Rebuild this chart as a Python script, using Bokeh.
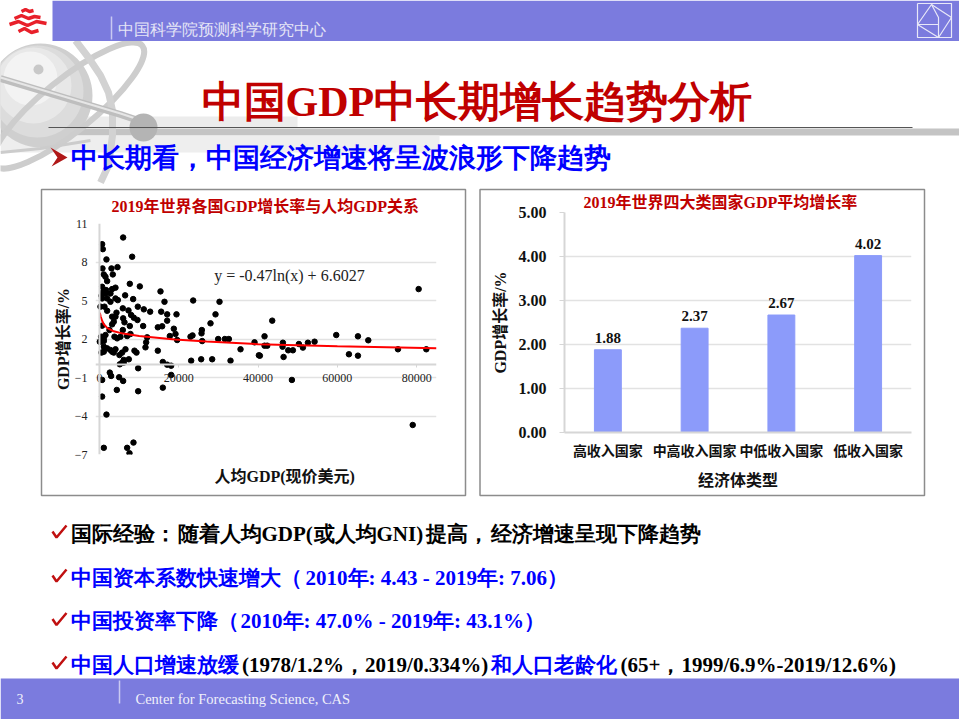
from bokeh.embed import file_html
from bokeh.models import ColumnDataSource, FactorRange, FixedTicker, GridBox, LabelSet, Label, NumeralTickFormatter, Range1d, Span, Title
from bokeh.plotting import figure
from bokeh.resources import INLINE

# scatter: GDP per capita vs GDP growth, 2019
gdp_per_capita = [
    5971, 673, 841, 1766, 8242, 757, 3028, 4541, 1093, 3364, 1514, 1934, 673, 7653, 10176, 4037,
    3196, 925, 1682, 15390, 6476, 505, 1514, 2775, 673, 1934, 4037, 4626, 2775, 16400, 23632, 30276,
    8494, 252, 1262, 5887, 9672, 11185, 15559, 1934, 7317, 12783, 4289, 17072, 19427, 29267, 4037, 3196,
    7990, 8662, 5971, 9587, 17072, 28005, 3616, 6308, 673, 3196, 7653, 11017, 14718, 15811, 18754, 25819,
    2523, 5887, 25735, 421, 1514, 3785, 7821, 6980, 17745, 19175, 22959, 23464, 29940, 31622, 32631, 12026,
    19595, 41630, 1093, 4457, 5298, 84, 11774, 25903, 39107,
    252, 1093, 1093, 1934, 2775, 4037, 6560, 11606, 505, 1093, 3616, 3196, 5719, 5046, 8830, 9335,
    14718, 7401, 6139, 5719, 5130, 6139, 15979, 17072, 18082, 23128, 25651, 28426, 33051, 35574, 40200, 9756,
    2607, 2944, 18082, 673, 4962, 5971, 4373, 9756, 15979, 673, 1766, 1093, 6980, 8578, 7569,
    80494, 43570, 59720, 65187, 67794, 46260, 52565, 54252, 50297, 41636, 42309, 46177, 51308, 75280, 82430,
    47607, 48784, 62915, 65187, 46430, 40458, 48532, 79000,
]
gdp_growth = [
    9.91, 9.39, 9.0, 8.2, 8.41, 7.5, 7.5, 7.6, 7.03, 7.03, 6.85, 6.51, 6.07, 6.3, 6.1, 6.0,
    5.89, 5.68, 5.81, 5.71, 5.4, 5.37, 5.55, 5.55, 5.16, 5.16, 5.16, 5.03, 4.9, 4.9, 5.0, 4.9,
    5.11, 4.52, 4.52, 4.39, 4.52, 4.31, 4.13, 4.2, 4.23, 4.13, 4.05, 3.92, 3.92, 3.92, 3.74, 3.74,
    3.87, 3.66, 3.61, 3.48, 3.43, 3.22, 3.35, 3.3, 3.04, 3.14, 3.01, 3.01, 2.91, 2.99, 2.8, 2.7,
    2.7, 2.7, 2.44, 2.18, 2.31, 2.18, 2.39, 2.23, 2.23, 2.39, 2.18, 2.28, 2.0, 2.0, 2.0, 2.13,
    1.92, 2.21, 2.05, 2.05, 2.18, 1.79, 1.74, 1.84, 1.74,
    1.79, 1.84, 1.40, 1.27, 1.14, 1.2, 1.2, 1.35, 0.94, 1.01, 0.94, 1.01, 0.94, 0.75, 1.09, 0.94,
    1.09, 0.42, 0.37, 0.16, 0.03, 0.16, 0.21, 0.0, -0.08, 0.31, 0.42, 0.42, 0.31, 1.2, 0.73, -0.28,
    -0.62, -0.88, -0.8, -1.19, -0.98, -1.27, -1.97, -2.07, -1.79, -2.49, -3.89, -6.48, -6.48, -6.07, -6.9,
    5.89, 3.43, 2.31, 2.21, 1.9, 1.71, 1.71, 1.79, 1.61, 1.48, 1.48, 1.4, 1.33, 1.2, 1.2,
    1.12, 1.12, 0.81, 0.7, 0.6, 0.7, -1.19, -4.7,
]
# red trend curve, read at a few places along it
trend_gdp = [100, 300, 700, 1100, 2000, 3600, 6000, 10000, 19000, 27000, 40000, 60000, 85000]
trend_growth = [4.05, 3.75, 3.4, 3.15, 2.85, 2.6, 2.42, 2.24, 1.96, 1.8, 1.6, 1.43, 1.27]
scatter_yticks = [-7, -4, -1, 2, 5, 8, 11]
scatter_xticks = [0, 20000, 40000, 60000, 80000]

# bars: mean growth by income group
income_groups = ["高收入国家", "中高收入国家", "中低收入国家", "低收入国家"]
group_growth = [1.88, 2.37, 2.67, 4.02]
bar_labels = ["1.88", "2.37", "2.67", "4.02"]
bar_yticks = [0, 1, 2, 3, 4, 5]

SERIF = "'Liberation Serif','Noto Sans CJK SC'"
LATIN_SERIF = "'Liberation Serif'"
LATIN_SANS = "'Liberation Sans'"
SANS = "'Noto Sans CJK SC'"
BAND = "#7B7BDE"
RED = "#C00000"
BLUE = "#0000FF"
GRID = "#E2E2E2"
AXIS = "#D6D6D6"

# slide background, in pixel coordinates of the slide
slide = figure(width=959, height=719, x_range=Range1d(0, 959), y_range=Range1d(719, 0),
               x_axis_type=None, y_axis_type=None, toolbar_location=None, output_backend="svg",
               min_border=0, outline_line_color=None, frame_align=False)
slide.grid.visible = False

# pale bands behind the title rule
slide.quad(left=[0, 0, 0], right=[297, 959, 439], top=[116, 128, 135], bottom=[127, 135, 152],
           color=["#ECECEC", "#C4C4C4", "#EEEEEE"], line_color=None)

# grey globe with orbits
for cx, cy, r, col in [(40, 95, 52, "#CFCFCF"), (37, 91, 46, "#DCDCDC"), (33, 85, 38, "#E8E8E8"),
                       (30, 78, 27, "#F3F3F3")]:
    slide.circle(x=[cx], y=[cy], radius=r, color=col, line_color=None)
slide.circle(x=[38], y=[69], radius=5, color="#C8C8C8", line_color=None)
slide.ellipse(x=[68], y=[105], width=190, height=52, angle=0.68, fill_color=None,
              line_color="#CDCDCD", line_width=6)
slide.line(x=[75, 88, 100, 108, 112, 112, 108, 100], y=[40, 57, 75, 92, 110, 135, 165, 182],
           line_color="#D2D2D2", line_width=7)
slide.line(x=[0, 60, 120, 150], y=[78, 96, 114, 124], line_color="#BEBEBE", line_width=7)
slide.line(x=[0, 60, 120, 150], y=[77, 95, 113, 123], line_color="#E6E6E6", line_width=2)
slide.circle(x=[143], y=[127], radius=14, color="#B4B4B4", line_color=None)
slide.line(x=[0, 40, 90], y=[152, 148, 140], line_color="#CCCCCC", line_width=3)

# header and footer bands
slide.quad(left=[52, 0], right=[959, 959], top=[0, 678], bottom=[40.5, 719], color=BAND, line_color=None)
slide.segment(x0=[111, 119], y0=[16, 680], x1=[111, 119], y1=[39, 703], line_color="#C9C9F2", line_width=1.5)
slide.text(x=[117], y=[29], text=["中国科学院预测科学研究中心"], text_font=SANS, text_font_size="15.8px",
           text_color="#E6E6F6", text_baseline="middle")
slide.text(x=[16], y=[698], text=["3"], text_font=LATIN_SANS, text_font_size="14px",
           text_color="#F0F0FA", text_baseline="middle")
slide.text(x=[135], y=[698], text=["Center for Forecasting Science, CAS"], text_font=LATIN_SANS,
           text_font_size="14.5px", text_color="#F0F0FA", text_baseline="middle")

# red emblem, top left
slide.multi_line(xs=[[21, 25, 29, 33], [14, 21, 28, 34, 40], [9, 18, 27, 36, 46], [18, 24, 31, 38]],
                 ys=[[11, 9, 11, 10], [18, 15, 18, 16, 17], [24, 21, 25, 21, 23], [31, 28, 32, 30]],
                 line_color="#E8202A", line_width=3.5)

# framed square, top right
slide.multi_line(xs=[[917, 951, 951, 917, 917], [931, 951, 938, 917, 931], [931, 938, 938], [917, 938]],
                 ys=[[3, 3, 37, 37, 3], [4, 17, 37, 24, 4], [4, 17, 37], [24, 24]],
                 line_color="#E8E8F8", line_width=1.2)

# title and rule
slide.text(x=[201], y=[101], text=["中国GDP中长期增长趋势分析"], text_font=SERIF, text_font_style="bold",
           text_font_size="42px", text_color=RED, text_baseline="middle")
slide.line(x=[48, 912], y=[127, 127], line_color="#555555", line_width=1)

# lead line
slide.patch(x=[50, 67, 51, 57], y=[147, 157, 166, 157], color="#B01818", line_color=None)
slide.text(x=[70], y=[157], text=["中长期看，中国经济增速将呈波浪形下降趋势"], text_font=SANS,
           text_font_style="bold", text_font_size="27px", text_color=BLUE, text_baseline="middle")

# chart frames
slide.quad(left=[41, 479.5], right=[465, 924], top=[189, 189], bottom=[495, 495], fill_color="white",
           line_color="#8C8C8C", line_width=1.5)

# ticks and bullet rows
row_y = [533, 577, 620.5, 664]
slide.multi_line(xs=[[52, 56, 66]] * 4, ys=[[y - 2, y + 4, y - 8] for y in row_y],
                 line_color="#C01010", line_width=2.5)
row_parts = [
    (70, row_y[0], "国际经验：", "black"),
    (177, row_y[0], "随着人均GDP(", "black"),
    (313, row_y[0], "或人均GNI)", "black"),
    (425, row_y[0], "提高，", "black"),
    (490.5, row_y[0], "经济增速呈现下降趋势", "black"),
    (70, row_y[1], "中国资本系数快速增大（", BLUE),
    (305, row_y[1], "2010年: 4.43 - 2019年: 7.06）", BLUE),
    (70, row_y[2], "中国投资率下降（", BLUE),
    (240, row_y[2], "2010年: 47.0% - 2019年: 43.1%）", BLUE),
    (70, row_y[3], "中国人口增速放缓", BLUE),
    (241.5, row_y[3], "(1978/1.2%，2019/0.334%)", "black"),
    (490.5, row_y[3], "和人口老龄化", BLUE),
    (620, row_y[3], "(65+，1999/6.9%-2019/12.6%)", "black"),
]
for x, y, txt, col in row_parts:
    slide.text(x=[x], y=[y], text=[txt], text_font=SERIF, text_font_style="bold",
               text_font_size="21px", text_color=col, text_baseline="middle")

# left chart
scatter_fig = figure(width=424, height=311, x_range=Range1d(-1000, 85000), y_range=Range1d(-7, 11),
                     toolbar_location=None, output_backend="svg", min_border_left=54, min_border_right=29,
                     min_border_top=39, min_border_bottom=41, background_fill_alpha=0, border_fill_alpha=0,
                     outline_line_color=None, margin=(184, 0, 0, 41), frame_align=False)
scatter_fig.xgrid.visible = False
scatter_fig.ygrid.ticker = FixedTicker(ticks=scatter_yticks)
scatter_fig.ygrid.grid_line_color = GRID
scatter_fig.ygrid.grid_line_width = 1.5
scatter_fig.xaxis.ticker = FixedTicker(ticks=scatter_xticks)
scatter_fig.yaxis.ticker = FixedTicker(ticks=scatter_yticks)
scatter_fig.xaxis.fixed_location = 0
for ax in (scatter_fig.xaxis, scatter_fig.yaxis):
    ax.minor_tick_line_color = None
    ax.major_label_text_font = LATIN_SERIF
    ax.major_label_text_font_size = "12px"
    ax.major_label_text_color = "#222222"
scatter_fig.xaxis.axis_line_color = AXIS
scatter_fig.xaxis.axis_line_width = 2
scatter_fig.xaxis.major_tick_line_color = AXIS
scatter_fig.xaxis.major_tick_in = 0
scatter_fig.xaxis.major_tick_out = 3
scatter_fig.xaxis.major_label_standoff = 6
scatter_fig.xaxis.formatter.use_scientific = False
scatter_fig.yaxis.axis_line_color = None
scatter_fig.yaxis.major_tick_line_color = None
scatter_fig.yaxis.major_label_standoff = 2
scatter_fig.yaxis.axis_label = "GDP增长率/%"
scatter_fig.yaxis.axis_label_standoff = 0
scatter_fig.yaxis.axis_label_text_font = SERIF
scatter_fig.yaxis.axis_label_text_font_style = "bold"
scatter_fig.yaxis.axis_label_text_font_size = "16px"
scatter_fig.yaxis.axis_label_text_color = "#111111"
scatter_fig.add_layout(Span(location=0, dimension="height", line_color=AXIS, line_width=2))
scatter_fig.scatter(gdp_per_capita, gdp_growth, size=5.5, color="black")
scatter_fig.line(trend_gdp, trend_growth, line_color="#FF0000", line_width=2)
scatter_fig.add_layout(Label(x=47900, y=6.94, text="y = -0.47ln(x) + 6.6027", text_align="center",
                             text_baseline="middle", text_font=LATIN_SERIF, text_font_size="16px",
                             text_color="#222222"))
scatter_fig.add_layout(Title(text="2019年世界各国GDP增长率与人均GDP关系", align="left", offset=16, standoff=18, text_font=SERIF,
                             text_font_style="bold", text_font_size="16px", text_color=RED), "above")
scatter_fig.add_layout(Title(text="人均GDP(现价美元)", align="left", offset=119, standoff=22, text_font=SERIF,
                             text_font_style="bold", text_font_size="16px", text_color="#111111"), "below")

# right chart
bar_fig = figure(width=444, height=309, x_range=FactorRange(factors=income_groups), y_range=Range1d(0, 5),
                 toolbar_location=None, output_backend="svg", min_border_left=84, min_border_right=13,
                 min_border_top=26, min_border_bottom=63, background_fill_alpha=0, border_fill_alpha=0,
                 outline_line_color=None, margin=(186, 0, 0, 480), frame_align=False)
bar_fig.xgrid.visible = False
bar_fig.ygrid.ticker = FixedTicker(ticks=bar_yticks)
bar_fig.ygrid.grid_line_color = GRID
bar_fig.ygrid.grid_line_width = 1.5
bar_fig.yaxis.ticker = FixedTicker(ticks=bar_yticks)
bar_fig.yaxis.formatter = NumeralTickFormatter(format="0.00")
for ax in (bar_fig.xaxis, bar_fig.yaxis):
    ax.axis_line_color = AXIS
    ax.axis_line_width = 2
    ax.minor_tick_line_color = None
    ax.major_label_text_color = "#111111"
    ax.major_label_text_font_style = "bold"
    ax.axis_label_text_font = SERIF
    ax.axis_label_text_font_style = "bold"
    ax.axis_label_text_font_size = "16px"
    ax.axis_label_text_color = "#111111"
bar_fig.xaxis.major_tick_line_color = None
bar_fig.xaxis.major_label_text_font = SANS
bar_fig.xaxis.major_label_text_font_size = "14px"
bar_fig.xaxis.major_label_standoff = 1
bar_fig.xaxis.axis_label = "经济体类型"
bar_fig.xaxis.axis_label_standoff = 9
bar_fig.yaxis.major_tick_line_color = AXIS
bar_fig.yaxis.major_tick_in = 0
bar_fig.yaxis.major_tick_out = 5
bar_fig.yaxis.major_label_text_font = LATIN_SERIF
bar_fig.yaxis.major_label_text_font_size = "16px"
bar_fig.yaxis.major_label_standoff = 13
bar_fig.yaxis.axis_label = "GDP增长率/%"
bar_fig.yaxis.axis_label_standoff = 7

bars = ColumnDataSource(dict(group=income_groups, growth=group_growth, label=bar_labels))
bar_fig.vbar(x="group", top="growth", width=0.31, source=bars, color="#8C9BFA")
bar_fig.add_layout(LabelSet(x="group", y="growth", text="label", source=bars, text_align="center",
                            y_offset=7, text_font=LATIN_SERIF, text_font_style="bold",
                            text_font_size="15px", text_color="#111111"))
bar_fig.add_layout(Title(text="2019年世界四大类国家GDP平均增长率", align="left", offset=19, standoff=4, text_font=SERIF,
                         text_font_style="bold", text_font_size="16px", text_color=RED), "above")

# the three figures share one grid cell, so the charts sit on top of the slide
page = GridBox(children=[(slide, 0, 0), (scatter_fig, 0, 0), (bar_fig, 0, 0)])
open("out.html", "w").write(file_html(page, INLINE))
